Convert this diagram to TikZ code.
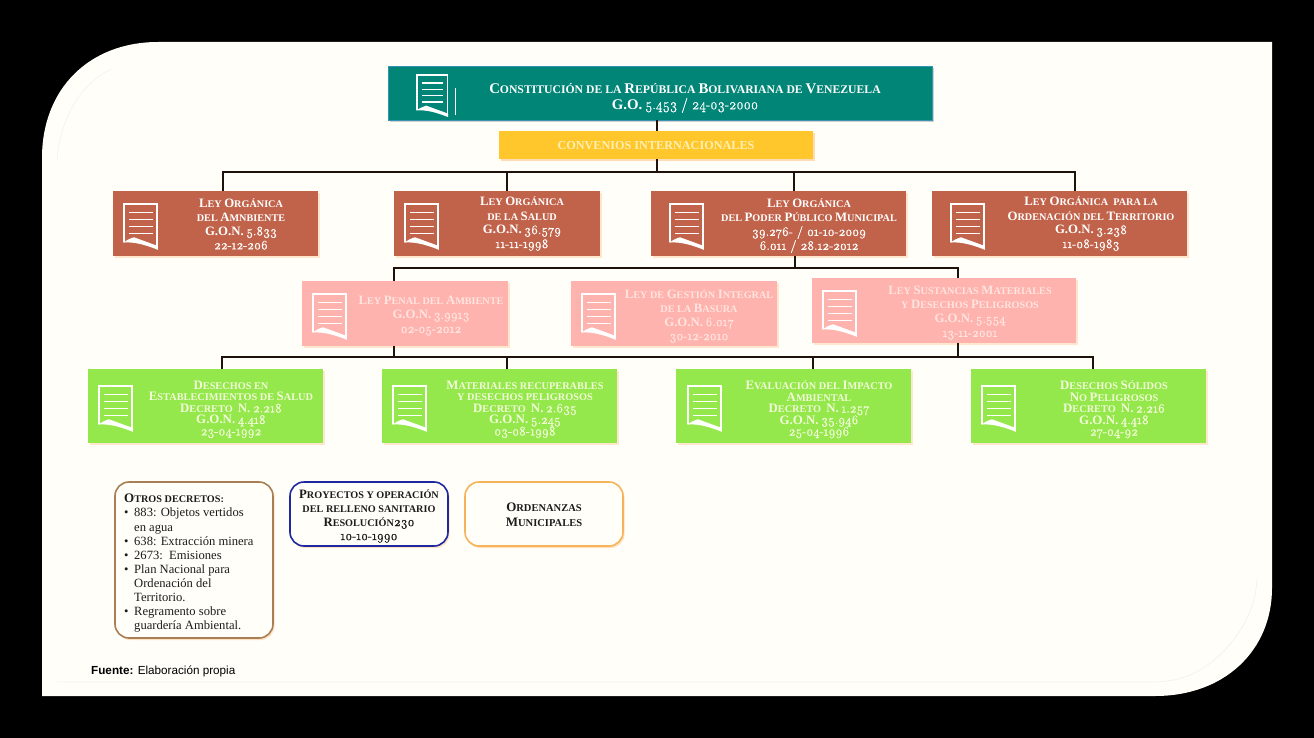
\documentclass[tikz,border=0pt]{standalone}
\usepackage{graphicx}
\usepackage{fontspec}
\setmainfont{Liberation Serif}
\newfontfamily\oldnumfont{Latin Modern Roman}[Numbers=OldStyle,FakeBold=1.2]
\setsansfont{Liberation Sans}
\usetikzlibrary{shadows}
\definecolor{cream}{HTML}{FFFEF8}
\definecolor{tealb}{HTML}{008577}
\definecolor{yellowb}{HTML}{FFC72C}
\definecolor{orangeb}{HTML}{C1634A}
\definecolor{pinkb}{HTML}{FFB3AE}
\definecolor{greenb}{HTML}{94E84B}
\definecolor{linec}{HTML}{1E120A}
\definecolor{pinkt}{HTML}{FFE4DF}
\definecolor{greent}{HTML}{F2FBD8}
\definecolor{yellowt}{HTML}{FFEFB0}
\definecolor{darkt}{HTML}{1C1C1C}
\def\bgsz{13}
\def\nmsc{.97}
\newcommand\Bg[1]{{\fontsize{\bgsz}{0}\selectfont #1}}
\newcommand\Nm[1]{\scalebox{\nmsc}[1]{\oldnumfont\mdseries\fontsize{\bgsz}{0}\selectfont #1}}
\newcommand\Bu{\makebox[10pt][l]{\textbullet}}
\newcommand\Ind{\hspace*{10pt}}
\tikzset{
  x=1pt,y=-1pt,
  softshadow/.style={drop shadow={shadow xshift=1.5pt,shadow yshift=-2pt,opacity=.45,fill=#1}},
  boxbase/.style={rectangle,inner sep=0pt,outer sep=0pt,anchor=north west},
  conn/.style={draw=linec,line width=1.3pt},
  txt/.style={inner sep=0pt,align=center,anchor=center},
  tealtxt/.style={txt,text=white,font=\def\bgsz{14.8}\def\nmsc{.94}\fontsize{11.7}{16}\selectfont\bfseries},
  ortxt/.style={txt,text=white,font=\def\bgsz{12.8}\fontsize{10.2}{14}\selectfont\bfseries},
  pinktxt/.style={txt,text=pinkt,font=\def\bgsz{12.8}\fontsize{10.2}{14}\selectfont\bfseries},
  greentxt/.style={txt,text=greent,font=\def\bgsz{12.9}\fontsize{10.3}{11.5}\selectfont\bfseries},
  darktxt/.style={txt,text=darkt,font=\def\bgsz{12.8}\fontsize{10.2}{14}\selectfont\bfseries},
  docicon/.pic={
    \draw[white,line width=1.7pt,line join=miter] (0,38) -- (0,0) -- (33,0) -- (33,43);
    \fill[white] (-.85,38.6) .. controls (3,36) and (6,34.5) .. (10,33.3) -- (33.85,42) -- (33.85,45.8) .. controls (22,41) and (10,37.5) .. (-.85,38.6) -- cycle;
    \foreach \yy in {8.5,15.5,22.5,29.5}{\draw[white,line width=1.4pt] (5,\yy) -- (28.5,\yy);}
  }
}
\newcommand\RBox[7]{% name, colour, x1,y1,x2,y2, shadow
  \node[boxbase,fill=#2,minimum width=#5pt-#3pt,minimum height=#6pt-#4pt,softshadow=#7] (#1) at (#3,#4) {};}
\begin{document}
\begin{tikzpicture}
\useasboundingbox (0,0) rectangle (1314,738);
\fill[black] (0,0) rectangle (1314,738);
% sheet
\fill[cream] (42,158) .. controls (42,88) and (90,42) .. (158,42) -- (1272,42) -- (1272,588)
  .. controls (1272,650) and (1225,696) .. (1155,696) -- (42,696) -- cycle;
\draw[black!5,line width=.6pt] (57,160) .. controls (60,115) and (85,80) .. (112,69);
\draw[black!6,line width=.6pt] (57,682) -- (1155,682) .. controls (1180,681) and (1200,675) .. (1225,650) .. controls (1245,628) and (1256,605) .. (1257,578);
% boxes
\RBox{teal}{tealb}{388}{66}{932}{120}{black!40}
\draw[cyan!40!tealb,line width=.6pt] (teal.north west) rectangle (teal.south east);
\RBox{yell}{yellowb}{499}{131}{813}{159}{orange!60}
\RBox{o1}{orangeb}{113}{191}{318}{256}{orange!40}
\RBox{o2}{orangeb}{394}{191}{600}{256}{orange!40}
\RBox{o3}{orangeb}{651}{191}{906}{256}{orange!40}
\RBox{o4}{orangeb}{932}{191}{1187}{256}{orange!40}
\RBox{p1}{pinkb}{302}{281}{508}{346}{orange!40}
\RBox{p2}{pinkb}{571}{281}{777}{346}{orange!40}
\RBox{p3}{pinkb}{812}{278}{1076}{343}{orange!40}
\RBox{g1}{greenb}{88}{369}{323}{443}{orange!40}
\RBox{g2}{greenb}{382}{369}{617}{443}{orange!40}
\RBox{g3}{greenb}{676}{369}{911}{443}{orange!40}
\RBox{g4}{greenb}{971}{369}{1206}{443}{orange!40}
\node[boxbase,draw={rgb,255:red,168;green,126;blue,84},line width=1.6pt,fill=cream,rounded corners=14pt,minimum width=158pt,minimum height=156pt,softshadow=orange!50] (dec) at (115,482) {};
\node[boxbase,draw={rgb,255:red,30;green,40;blue,160},line width=1.6pt,fill=cream,rounded corners=14pt,minimum width=158pt,minimum height=64pt,softshadow=orange!50] (proy) at (290,482) {};
\node[boxbase,draw={rgb,255:red,245;green,180;blue,90},line width=1.6pt,fill=cream,rounded corners=14pt,minimum width=158pt,minimum height=64pt,softshadow=orange!50] (ord) at (465,482) {};
% connectors
\coordinate (a) at (657,172);
\coordinate (aL) at (223,172);
\coordinate (aB) at (507,172);
\coordinate (aC) at (794,172);
\coordinate (aR) at (1075,172);
\coordinate (b) at (795,268);
\coordinate (bL) at (394,268);
\coordinate (bR) at (958,268);
\coordinate (c) at (394,357);
\coordinate (cL) at (222,357);
\coordinate (cB) at (507,357);
\coordinate (cC) at (813,357);
\coordinate (cD) at (958,357);
\coordinate (cR) at (1093,357);
\draw[conn] (teal.south-|a) -- (yell.north-|a);
\draw[conn] (yell.south-|a) -- (a);
\draw[conn] (o1.north-|aL) -- (aL) -- (aR) -- (o4.north-|aR);
\draw[conn] (aB) -- (o2.north-|aB);
\draw[conn] (aC) -- (o3.north-|aC);
\draw[conn] (o3.south-|b) -- (b);
\draw[conn] (p1.north-|bL) -- (bL) -- (bR) -- (p3.north-|bR);
\draw[conn] (p1.south-|c) -- (c);
\draw[conn] (p3.south-|cD) -- (cD);
\draw[conn] (g1.north-|cL) -- (cL) -- (cR) -- (g4.north-|cR);
\draw[conn] (cB) -- (g2.north-|cB);
\draw[conn] (cC) -- (g3.north-|cC);
% icons
\pic[scale=.92] at (417,75) {docicon};
\draw[white,line width=.6pt] (455,88) -- (455,115);
\foreach \ix in {124,405,670,951}{\pic at (\ix,204) {docicon};}
\foreach \ix in {313,582}{\pic at (\ix,294) {docicon};}
\pic at (823,291) {docicon};
\foreach \ix in {99,393,688,982}{\pic at (\ix,386) {docicon};}
% texts
\node[tealtxt] (tt) at (685,98) {\Bg{C}ONSTITUCIÓN DE LA \Bg{R}EPÚBLICA \Bg{B}OLIVARIANA DE \Bg{V}ENEZUELA\\\Bg{G.O.} \Nm{5.453 / 24-03-2000}};
\node[txt,text=yellowt,font=\fontsize{12.2}{14}\selectfont\bfseries] (yt) at (656,145.5) {CONVENIOS INTERNACIONALES};
\node[ortxt] (ot1) at (241,224) {\Bg{L}EY \Bg{O}RGÁNICA\\DEL \Bg{A}MNBIENTE\\\Bg{G.O.N.} \Nm{5.833}\\\Nm{22-12-206}};
\node[ortxt] (ot2) at (522,224) {\Bg{L}EY \Bg{O}RGÁNICA\\DE LA \Bg{S}ALUD\\\Bg{G.O.N.} \Nm{36.579}\\\Nm{11-11-1998}};
\node[ortxt] (ot3) at (809,226) {\Bg{L}EY \Bg{O}RGÁNICA\\DEL \Bg{P}ODER \Bg{P}ÚBLICO \Bg{M}UNICIPAL\\\Nm{39.276- / 01-10-2009}\\\Nm{6.011 / 28.12-2012}};
\node[ortxt] (ot4) at (1091,224) {\Bg{L}EY \Bg{O}RGÁNICA\ \ PARA LA\\\Bg{O}RDENACIÓN DEL \Bg{T}ERRITORIO\\\Bg{G.O.N.} \Nm{3.238}\\\Nm{11-08-1983}};
\node[pinktxt] (pt1) at (431,316) {\Bg{L}EY \Bg{P}ENAL DEL \Bg{A}MBIENTE\\\Bg{G.O.N.} \Nm{3.9913}\\\Nm{02-05-2012}};
\node[pinktxt] (pt2) at (699,316) {\Bg{L}EY DE \Bg{G}ESTIÓN \Bg{I}NTEGRAL\\DE LA \Bg{B}ASURA\\\Bg{G.O.N.} \Nm{6.017}\\\Nm{30-12-2010}};
\node[pinktxt] (pt3) at (970,313) {\Bg{L}EY \Bg{S}USTANCIAS \Bg{M}ATERIALES\\Y \Bg{D}ESECHOS \Bg{P}ELIGROSOS\\\Bg{G.O.N.} \Nm{5.554}\\\Nm{13-11-2001}};
\node[greentxt] (gt1) at (231,409.5) {\Bg{D}ESECHOS EN\\\Bg{E}STABLECIMIENTOS DE \Bg{S}ALUD\\\Bg{D}ECRETO\ \ \Bg{N.} \Nm{2.218}\\\Bg{G.O.N.} \Nm{4.418}\\\Nm{23-04-1992}};
\node[greentxt] (gt2) at (525,409.5) {\Bg{M}ATERIALES RECUPERABLES\\Y DESECHOS PELIGROSOS\\\Bg{D}ECRETO\ \ \Bg{N.} \Nm{2.635}\\\Bg{G.O.N.} \Nm{5.245}\\\Nm{03-08-1998}};
\node[greentxt] (gt3) at (819,409.5) {\Bg{E}VALUACIÓN DEL \Bg{I}MPACTO\\\Bg{A}MBIENTAL\\\Bg{D}ECRETO\ \ \Bg{N.} \Nm{1.257}\\\Bg{G.O.N.} \Nm{35.946}\\\Nm{25-04-1996}};
\node[greentxt] (gt4) at (1114,409.5) {\Bg{D}ESECHOS \Bg{S}ÓLIDOS\\\Bg{N}O \Bg{P}ELIGROSOS\\\Bg{D}ECRETO\ \ \Bg{N.} \Nm{2.216}\\\Bg{G.O.N.} \Nm{4.418}\\\Nm{27-04-92}};
\node[inner sep=0pt,anchor=north west,align=left,text=darkt,font=\fontsize{12.6}{14.1}\selectfont] (dt) at (124,494) {{\bfseries\fontsize{10.2}{14}\selectfont\Bg{O}TROS DECRETOS:}\\
\Bu 883: Objetos vertidos\\\Ind en agua\\\Bu 638: Extracción minera\\\Bu 2673:\ \ Emisiones\\\Bu Plan Nacional para\\\Ind Ordenación del\\\Ind Territorio.\\\Bu Regramento sobre\\\Ind guardería Ambiental.};
\node[darktxt] (bt) at (369,516) {\Bg{P}ROYECTOS Y OPERACIÓN\\DEL RELLENO SANITARIO\\\Bg{R}ESOLUCIÓN\Nm{230}\\\Nm{10-10-1990}};
\node[darktxt,font=\def\bgsz{13}\fontsize{10.5}{15}\selectfont\bfseries] (ot) at (544,514.5) {\Bg{O}RDENANZAS\\\Bg{M}UNICIPALES};
\node[inner sep=0pt,anchor=west,text=black,font=\sffamily\fontsize{11.7}{13}\selectfont] (fu) at (91,671) {\textbf{Fuente:} Elaboración propia};
\end{tikzpicture}
\end{document}
